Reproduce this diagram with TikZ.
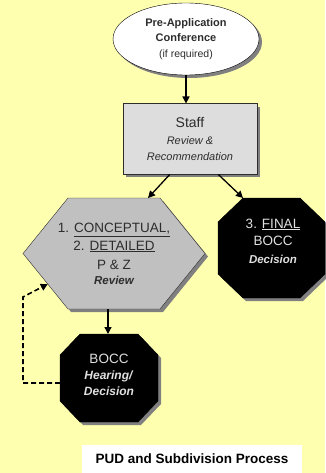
\documentclass[tikz,border=0pt]{standalone}
\usepackage{fontspec}
\setmainfont{Liberation Sans}
\usetikzlibrary{shapes.geometric, shadows, arrows.meta, calc}

\definecolor{paper}{RGB}{255,255,176}
\definecolor{boxgray}{RGB}{221,221,221}
\definecolor{hexgray}{RGB}{192,192,192}
\definecolor{shadowgray}{RGB}{128,128,128}
\definecolor{inkgray}{RGB}{45,45,45}

\tikzset{
  flow/.style = {line width=1.3pt, -{Triangle[length=7pt,width=7pt]}},
  loopback/.style = {flow, line width=1.6pt, dash pattern=on 5pt off 3pt},
  shade/.style = {drop shadow={shadow xshift=3pt, shadow yshift=-3pt, fill=shadowgray, opacity=1}},
  lbl/.style = {align=center, text=inkgray, inner sep=0pt},
  stoplbl/.style = {align=center, text=white!88!black, inner sep=0pt},
}

\begin{document}
\begin{tikzpicture}[x=1pt, y=-1pt]

  % Background
  \fill[paper] (0,0) rectangle (325,473);
  \useasboundingbox (0,0) rectangle (325,473);

  % Pre-application conference
  \node[ellipse, draw=black, fill=white, shade, minimum width=146pt, minimum height=72pt, lbl,
        font=\fontsize{11}{15.5}\selectfont] (pre) at (186,39)
    {\textbf{Pre-Application}\\
     \textbf{Conference}\\
     {\fontsize{10.5}{15.5}\selectfont (if required)}};

  % Staff review
  \node[draw=inkgray, line width=1pt, fill=boxgray, shade, minimum width=134pt, minimum height=70pt, lbl,
        font=\fontsize{11}{15.5}\selectfont] (staff) at (190,139)
    {{\fontsize{14}{15.5}\selectfont Staff}\\[1.5pt]
     \textit{Review \&}\\
     \textit{Recommendation}};

  % P & Z hexagon
  \coordinate (hex-w) at (23,253.5);
  \coordinate (hex-sw) at (68,309);
  \draw[inkgray, fill=hexgray, shade] (hex-w) -- (68,198) -- (160,198) -- (205,253.5) -- (160,309) -- (hex-sw) -- cycle;
  \coordinate (hex-in) at (148,198);
  \coordinate (hex-out) at (108,309);
  \coordinate (hex-back) at ($(hex-w)!0.55!(hex-sw)$);
  \node[lbl, font=\fontsize{13.5}{17.5}\selectfont] (review) at (114,254)
    {1. \underline{CONCEPTUAL,}\\
     2. \underline{DETAILED}\\[1.5pt]
     P \& Z\\[-2pt]
     {\fontsize{11.5}{17.5}\selectfont\bfseries\itshape Review}};

  % Final decision octagon
  \draw[fill=black, shade] (243,198) -- (300,198) -- (325,222) -- (325,274) -- (300,298) -- (243,298) -- (218,274) -- (218,222) -- cycle;
  \coordinate (final-nw) at (243,198);
  \node[stoplbl, font=\fontsize{13.5}{17.5}\selectfont] (final) at (273,241)
    {3. \underline{FINAL}\\
     BOCC\\
     {\fontsize{11.5}{17.5}\selectfont\bfseries\itshape Decision}};

  % Hearing octagon
  \draw[fill=black, shade] (80,334) -- (138,334) -- (158,355) -- (158,401) -- (138,422) -- (80,422) -- (60,401) -- (60,355) -- cycle;
  \coordinate (hear-n) at (108,334);
  \coordinate (hear-w) at (60,383);
  \node[stoplbl, font=\fontsize{12}{16}\selectfont] (hearing) at (109,375)
    {{\fontsize{13.5}{16}\selectfont BOCC}\\
     \textbf{\textit{Hearing/}}\\
     \textbf{\textit{Decision}}};

  % Connectors
  \draw[flow] (pre.south) -- (pre.south |- staff.north);
  \draw[flow] ($(staff.south west)!0.35!(staff.south east)$) -- (hex-in);
  \draw[flow] ($(staff.south west)!0.71!(staff.south east)$) -- (final-nw);
  \draw[flow] (hex-out) -- (hear-n);
  \draw[loopback] (hear-w) -| (23,297) -- (hex-back);

  % Title
  \node[fill=white, minimum width=220pt, minimum height=28pt, font=\bfseries\fontsize{13.5}{16}\selectfont] (title) at (192,459) {PUD and Subdivision Process};

\end{tikzpicture}
\end{document}
